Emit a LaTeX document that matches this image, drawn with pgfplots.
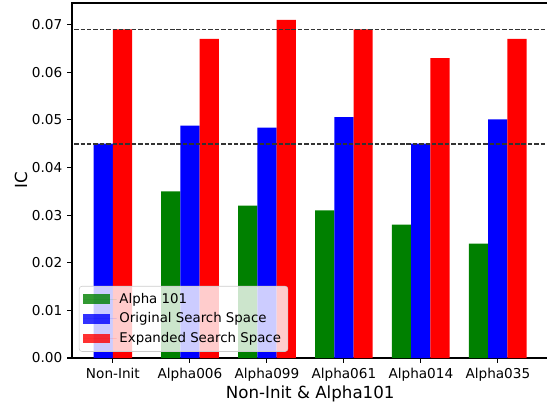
\documentclass[border=0pt]{standalone}
\usepackage{pgfplots}
\pgfplotsset{compat=1.18}
\usepackage{fontspec}
\setmainfont{DejaVu Sans}
\definecolor{mplgreen}{RGB}{0,128,0}
\definecolor{mplblue}{RGB}{0,0,255}
\definecolor{mplred}{RGB}{255,0,0}
\pgfplotsset{
  mybar/.style={ybar, bar shift=0pt, bar width=0.25, draw=none, fill=#1,
    legend image code/.code={\fill[fill=#1,draw=none,sharp corners] (0pt,-3.5pt) rectangle (19pt,3.5pt);
      \path (0pt,0pt) -- (24pt,0pt);}},
}
\begin{document}
\begin{tikzpicture}
\begin{axis}[
  name=ax, at={(0,0)}, anchor=south west,
  scale only axis, width=343pt, height=255.6pt,
  xmin=-0.53125, xmax=5.65625, ymin=0, ymax=0.07455,
  xtick={0,1,2,3,4,5},
  xticklabels={Non-Init,Alpha006,Alpha099,Alpha061,Alpha014,Alpha035},
  ytick={0,0.01,0.02,0.03,0.04,0.05,0.06,0.07},
  scaled y ticks=false,
  yticklabel style={/pgf/number format/.cd, fixed, fixed zerofill, precision=2},
  /pgf/number format/assume math mode=true,
  tick align=outside, tick pos=left, major tick length=3.5pt,
  tick style={black, line width=0.8pt},
  axis line style={line width=0.8pt},
  ticklabel style={font=\fontsize{9.8}{12}\selectfont},
  xlabel={Non-Init \& Alpha101}, ylabel={IC},
  label style={font=\fontsize{12}{14}\selectfont},
  xlabel style={yshift=3pt},
  ylabel style={yshift=-3.6pt},
  legend cell align=left,
  legend style={at={(0,0)}, anchor=south west, xshift=5pt, yshift=4.5pt,
    draw=black!20, rounded corners=2pt, fill=white, fill opacity=0.8, text opacity=1,
    font=\fontsize{9.6}{12}\selectfont, inner sep=3pt, row sep=1.3pt},
]
\addplot[mybar=mplgreen] coordinates {(0.75,0.035) (1.75,0.032) (2.75,0.031) (3.75,0.028) (4.75,0.024)};
\addlegendentry{Alpha 101}
\addplot[mybar=mplblue] coordinates {(-0.125,0.045) (1,0.0488) (2,0.0484) (3,0.0506) (4,0.045) (5,0.0501)};
\addlegendentry{Original Search Space}
\addplot[mybar=mplred] coordinates {(0.125,0.069) (1.25,0.067) (2.25,0.071) (3.25,0.069) (4.25,0.063) (5.25,0.067)};
\addlegendentry{Expanded Search Space}
\addplot[forget plot, black!80, line width=1.2pt, dash pattern=on 3.2pt off 1.4pt] coordinates {(-1,0.069) (7,0.069)};
\addplot[forget plot, black!80, line width=1.2pt, dash pattern=on 3.2pt off 1.4pt] coordinates {(-1,0.045) (7,0.045)};
\end{axis}
\pgfresetboundingbox
\path (-51.84pt,-34.56pt) rectangle (342pt,257.76pt);
\end{tikzpicture}
\end{document}
